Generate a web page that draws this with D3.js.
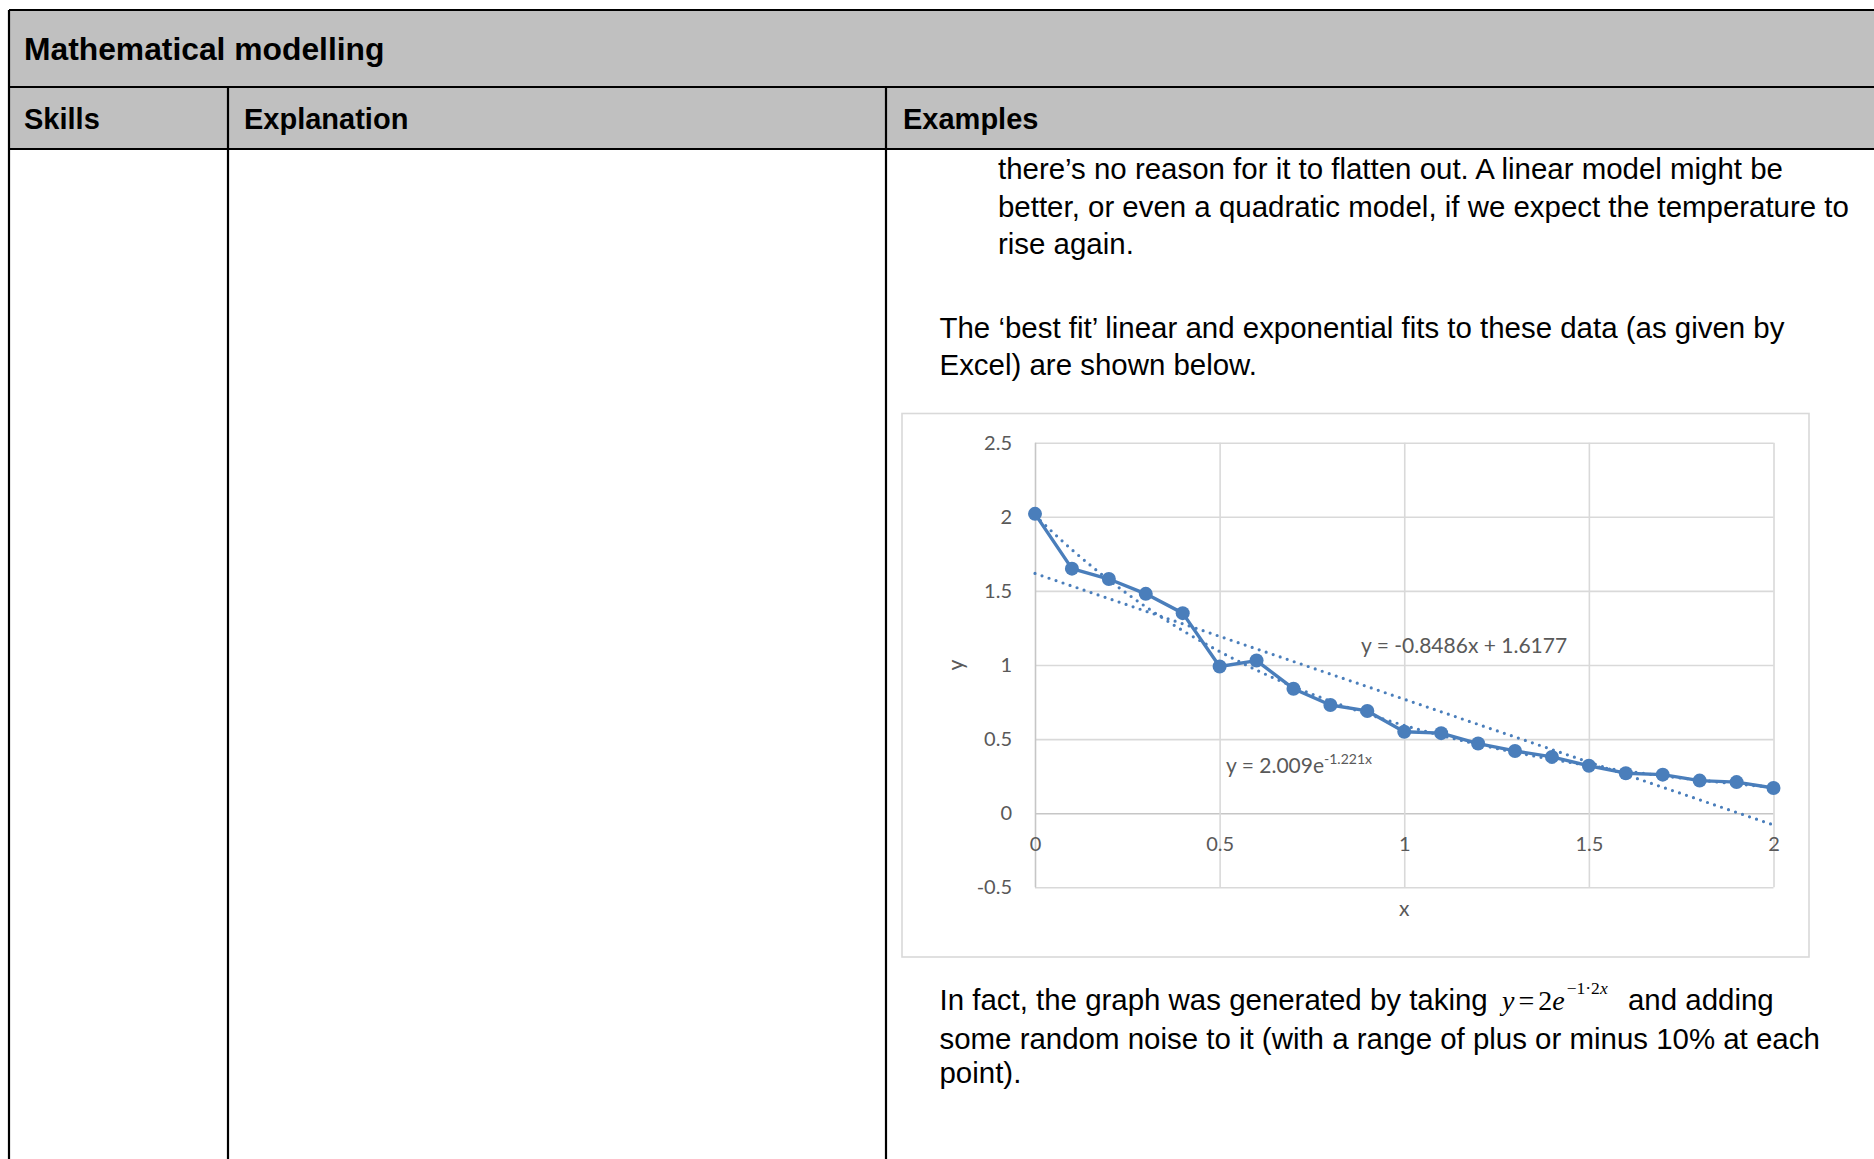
<!DOCTYPE html>
<html>
<head>
<meta charset="utf-8">
<script src="https://cdn.jsdelivr.net/npm/d3@7"></script>
<style>
  body { margin: 0; background: #fff; }
  svg { display: block; }
</style>
</head>
<body>
<svg id="page" width="1874" height="1159"></svg>
<script>
// chart values
const xValues = [0, 0.1, 0.2, 0.3, 0.4, 0.5, 0.6, 0.7, 0.8, 0.9, 1.0,
                 1.1, 1.2, 1.3, 1.4, 1.5, 1.6, 1.7, 1.8, 1.9, 2.0];
const yValues = [2.02, 1.65, 1.58, 1.48, 1.35, 0.99, 1.03, 0.84, 0.73, 0.69, 0.55,
                 0.54, 0.47, 0.42, 0.38, 0.32, 0.27, 0.26, 0.22, 0.21, 0.17];
const xTicks = [0, 0.5, 1, 1.5, 2];
const yTicks = [-0.5, 0, 0.5, 1, 1.5, 2, 2.5];
const xTickLabels = ["0", "0.5", "1", "1.5", "2"];
const yTickLabels = ["-0.5", "0", "0.5", "1", "1.5", "2", "2.5"];
// trendline coefficients as printed by Excel
const linearFit = { slope: -0.8486, intercept: 1.6177 };
const expFit = { a: 2.009, b: -1.221 };

const headerTitle = "Mathematical modelling";
const columnTitles = ["Skills", "Explanation", "Examples"];
const topLines = [
  "there\u2019s no reason for it to flatten out. A linear model might be",
  "better, or even a quadratic model, if we expect the temperature to",
  "rise again."
];
const introLines = [
  "The \u2018best fit\u2019 linear and exponential fits to these data (as given by",
  "Excel) are shown below."
];
const outroLines = [
  "some random noise to it (with a range of plus or minus 10% at each",
  "point)."
];

let svg = d3.select("#page");
let blue = "#4a7ebb";
let gridColor = "#d9d9d9";
let labelColor = "#595959";
let chartFont = "Lato, 'Open Sans', sans-serif";
let docFont = "'Liberation Sans', Arial, sans-serif";
let bodySize = "29.45px";

// ---- table around the chart ----
svg.append("rect")
  .attr("x", 9).attr("y", 10)
  .attr("width", 1880).attr("height", 139)
  .attr("fill", "#c0c0c0");

let borders = [
  [9, 10, 1880, 10],
  [9, 87, 1880, 87],
  [9, 149, 1880, 149],
  [9, 10, 9, 1170],
  [228, 87, 228, 1170],
  [886, 87, 886, 1170]
];
svg.selectAll(".border")
  .data(borders)
  .enter()
  .append("line")
  .attr("x1", d => d[0]).attr("y1", d => d[1])
  .attr("x2", d => d[2]).attr("y2", d => d[3])
  .attr("stroke", "#000")
  .attr("stroke-width", 2.2);

svg.append("text")
  .attr("x", 24).attr("y", 60)
  .text(headerTitle)
  .style("font-family", docFont)
  .style("font-weight", "bold")
  .style("font-size", "31.8px");

let colX = [24, 244, 903];
svg.selectAll(".colTitle")
  .data(columnTitles)
  .enter()
  .append("text")
  .attr("x", (d, i) => colX[i])
  .attr("y", 128.5)
  .text(d => d)
  .style("font-family", docFont)
  .style("font-weight", "bold")
  .style("font-size", "29px");

function addBodyLines(x, ys, lines) {
  svg.selectAll(null)
    .data(lines)
    .enter()
    .append("text")
    .attr("x", x)
    .attr("y", (d, i) => ys[i])
    .text(d => d)
    .style("font-family", docFont)
    .style("font-size", bodySize)
    .style("fill", "#000");
}

addBodyLines(998, [179, 216.5, 254], topLines);
addBodyLines(939.5, [337.5, 375], introLines);
addBodyLines(939.5, [1049, 1083], outroLines);

svg.append("text")
  .attr("x", 939.5).attr("y", 1010)
  .text("In fact, the graph was generated by taking")
  .style("font-family", docFont)
  .style("font-size", bodySize);

// y = 2e^(-1.2x)
let eq = svg.append("text")
  .attr("x", 1502).attr("y", 1010)
  .style("font-family", "'Liberation Serif', 'Times New Roman', serif")
  .style("font-size", "28px");
eq.append("tspan").style("font-style", "italic").text("y");
eq.append("tspan").attr("dx", 4).text("=");
eq.append("tspan").attr("dx", 4).text("2");
eq.append("tspan").style("font-style", "italic").text("e");
eq.append("tspan").attr("dx", 2).attr("dy", -16).style("font-size", "17.5px").text("\u22121\u00b72");
eq.append("tspan").style("font-size", "17.5px").style("font-style", "italic").text("x");

svg.append("text")
  .attr("x", 1628).attr("y", 1010)
  .text("and adding")
  .style("font-family", docFont)
  .style("font-size", bodySize);

// ---- chart ----
svg.append("rect")
  .attr("x", 902).attr("y", 413.5)
  .attr("width", 907).attr("height", 543.5)
  .attr("fill", "#fff")
  .attr("stroke", gridColor)
  .attr("stroke-width", 1.6);

let x = d3.scaleLinear().domain([0, 2]).range([1035, 1773.5]);
let y = d3.scaleLinear().domain([-0.5, 2.5]).range([887.3, 442.7]);

// gridlines
svg.append("g")
  .attr("transform", "translate(" + x(0) + ",0)")
  .call(d3.axisLeft(y).tickValues(yTicks).tickSize(-(x(2) - x(0))).tickFormat(""))
  .call(g => g.select(".domain").remove())
  .selectAll("line")
  .attr("stroke", d => d === 0 ? "#c6c6c6" : gridColor)
  .attr("stroke-width", 1.6);

svg.append("g")
  .attr("transform", "translate(0," + y(-0.5) + ")")
  .call(d3.axisBottom(x).tickValues(xTicks).tickSize(-(y(-0.5) - y(2.5))).tickFormat(""))
  .call(g => g.select(".domain").remove())
  .selectAll("line")
  .attr("stroke", d => d === 0 ? "#c6c6c6" : gridColor)
  .attr("stroke-width", 1.6);

// y tick labels
svg.append("g")
  .attr("transform", "translate(" + (x(0) - 23) + ",0)")
  .call(d3.axisLeft(y).tickValues(yTicks).tickSize(0).tickPadding(0)
    .tickFormat((d, i) => yTickLabels[i]))
  .call(g => g.select(".domain").remove())
  .selectAll("text")
  .style("font-family", chartFont)
  .style("font-size", "20px")
  .style("fill", labelColor);

// x tick labels sit below the zero line
svg.append("g")
  .attr("transform", "translate(0," + (y(0) + 24) + ")")
  .call(d3.axisBottom(x).tickValues(xTicks).tickSize(0).tickPadding(0)
    .tickFormat((d, i) => xTickLabels[i]))
  .call(g => g.select(".domain").remove())
  .selectAll("text")
  .style("font-family", chartFont)
  .style("font-size", "20px")
  .style("fill", labelColor);

// axis titles
svg.append("text")
  .attr("x", (x(0) + x(2)) / 2)
  .attr("y", 916)
  .attr("text-anchor", "middle")
  .text("x")
  .style("font-family", chartFont)
  .style("font-size", "21px")
  .style("fill", labelColor);

svg.append("text")
  .attr("transform", "translate(963," + y(1) + ") rotate(-90)")
  .attr("text-anchor", "middle")
  .text("y")
  .style("font-family", chartFont)
  .style("font-size", "21px")
  .style("fill", labelColor);

// trendlines (dotted)
let linePath = d3.line()
  .x(d => x(d))
  .y(d => y(linearFit.slope * d + linearFit.intercept));
let expPath = d3.line()
  .x(d => x(d))
  .y(d => y(expFit.a * Math.exp(expFit.b * d)))
  .curve(d3.curveMonotoneX);

svg.append("path")
  .attr("d", expPath(xValues))
  .attr("fill", "none")
  .attr("stroke", blue)
  .attr("stroke-width", 3.2)
  .attr("stroke-linecap", "round")
  .attr("stroke-dasharray", "0 7.4");

svg.append("path")
  .attr("d", linePath([xValues[0], xValues[xValues.length - 1]]))
  .attr("fill", "none")
  .attr("stroke", blue)
  .attr("stroke-width", 3.2)
  .attr("stroke-linecap", "round")
  .attr("stroke-dasharray", "0 7.4");

// data series
let series = xValues.map((d, i) => [d, yValues[i]]);
svg.append("path")
  .attr("d", d3.line().x(d => x(d[0])).y(d => y(d[1]))(series))
  .attr("fill", "none")
  .attr("stroke", blue)
  .attr("stroke-width", 3.4)
  .attr("stroke-linejoin", "round");

svg.selectAll(".marker")
  .data(series)
  .enter()
  .append("circle")
  .attr("cx", d => x(d[0]))
  .attr("cy", d => y(d[1]))
  .attr("r", 7)
  .attr("fill", blue);

// trendline labels
svg.append("text")
  .attr("x", 1361).attr("y", 653)
  .text("y = -0.8486x + 1.6177")
  .style("font-family", chartFont)
  .style("font-size", "21px")
  .style("fill", labelColor);

let expLabel = svg.append("text")
  .attr("x", 1226).attr("y", 772.5)
  .style("font-family", chartFont)
  .style("font-size", "21px")
  .style("fill", labelColor);
expLabel.append("tspan").text("y = 2.009e");
expLabel.append("tspan")
  .attr("dy", -9)
  .style("font-size", "14px")
  .text("-1.221x");
</script>
</body>
</html>
